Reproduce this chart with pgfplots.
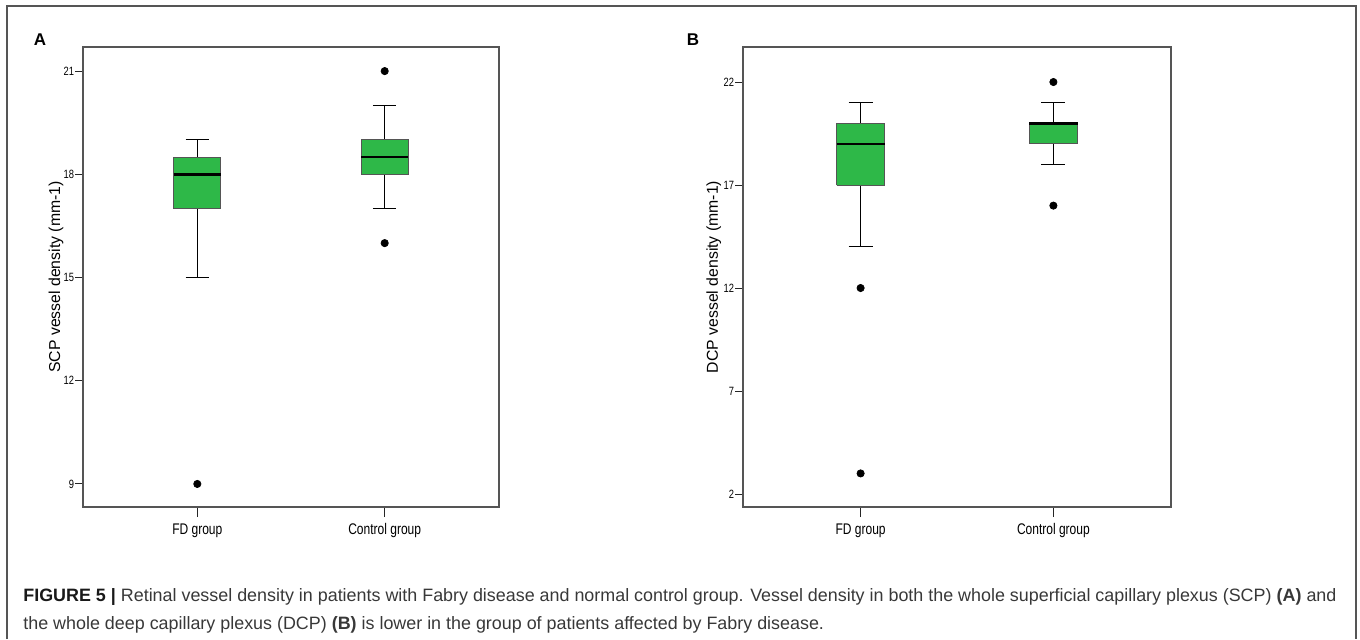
\documentclass[border=0pt]{standalone}
\usepackage{fontspec}
\setmainfont{Liberation Sans}
\newfontfamily\narrowfont[FakeStretch=0.78]{Liberation Sans}
\usepackage{pgfplots}
\pgfplotsset{compat=1.18}
\definecolor{boxgreen}{RGB}{46,184,72}
\definecolor{framegray}{RGB}{85,85,85}

\pgfplotsset{
  vdbox/.style={
    scale only axis, height=230pt, anchor=south west,
    xmin=-0.61, xmax=1.61,
    xtick={0,1}, xticklabels={FD group, Control group},
    tick align=outside, xtick pos=bottom, ytick pos=left,
    major tick length=3.8pt,
    x tick style={/pgfplots/major tick length=5pt},
    axis line style={framegray, line width=0.7pt},
    tick style={black!85, line width=0.5pt},
    /pgf/number format/assume math mode=true,
    yticklabel style={font=\narrowfont\fontsize{6}{7}\selectfont, inner sep=0.5pt},
    xticklabel style={font=\narrowfont\fontsize{7.7}{9}\selectfont, inner sep=1pt,
      text height=6pt, text depth=1.6pt, yshift=-2.5pt},
    ylabel style={font=\fontsize{7.9}{9}\selectfont, anchor=center},
  },
  whisk/.style={black, line width=0.5pt, mark=none},
  boxbody/.style={fill=boxgreen, draw=framegray, line width=0.5pt, mark=none},
  med/.style={black, line width=1.3pt, mark=none},
  vout/.style={only marks, mark=*, mark size=1.8pt, black, mark options={fill=black}},
}

% box at draw position #1: lower whisker #2, Q1 #3, median #4, Q3 #5, upper whisker #6
\newcommand{\drawbox}[6]{%
  \pgfmathsetmacro\bl{#1-0.125}\pgfmathsetmacro\br{#1+0.125}%
  \pgfmathsetmacro\cl{#1-0.0625}\pgfmathsetmacro\cr{#1+0.0625}%
  \edef\tmp{%
    \noexpand\addplot[whisk] coordinates {(#1,#2) (#1,#3)};
    \noexpand\addplot[whisk] coordinates {(#1,#5) (#1,#6)};
    \noexpand\addplot[whisk] coordinates {(\cl,#2) (\cr,#2)};
    \noexpand\addplot[whisk] coordinates {(\cl,#6) (\cr,#6)};
    \noexpand\addplot[boxbody] coordinates {(\bl,#3) (\br,#3) (\br,#5) (\bl,#5) (\bl,#3)};
    \noexpand\addplot[med] coordinates {(\bl,#4) (\br,#4)};
  }\tmp}

\begin{document}
\begin{tikzpicture}
\begin{scope}[x=0.5pt,y=0.5pt]
% page in reference pixels (y upward)
\path[use as bounding box] (0,0) rectangle (1360,639);
\draw[framegray, line width=0.7pt] (7,0) -- (7,633) -- (1356,633) -- (1356,0);
\node[font=\bfseries\fontsize{8.5}{10}\selectfont] at (40,599) {A};
\node[font=\bfseries\fontsize{8.5}{10}\selectfont] at (693,599) {B};
\node[anchor=base west, align=left, inner sep=0pt, text=black!78,
      font=\fontsize{8.95}{14}\selectfont] at (23,10)
  {{\bfseries\color{black!90}FIGURE 5 |} Retinal vessel density in patients with Fabry disease and normal control group. Vessel density in both the whole superficial capillary plexus (SCP) {\bfseries(A)} and\\
   the whole deep capillary plexus (DCP) {\bfseries(B)} is lower in the group of patients affected by Fabry disease.};
\end{scope}

% panel A: SCP
\begin{axis}[vdbox, at={(41.5pt,66pt)}, width=208pt,
  ymin=8.33, ymax=21.7, ytick={9,12,15,18,21},
  ylabel={SCP vessel density (mm-1)},
  ylabel style={at={(axis description cs:-0.065,0.5)}}]
\drawbox{0}{15}{17}{18}{18.5}{19}
\drawbox{1}{17}{18}{18.5}{19}{20}
\addplot[vout] coordinates {(0,9) (1,21) (1,16)};
\end{axis}

% panel B: DCP
\begin{axis}[vdbox, at={(371.5pt,66pt)}, width=214pt,
  ymin=1.37, ymax=23.7, ytick={2,7,12,17,22},
  ylabel={DCP vessel density (mm-1)},
  ylabel style={at={(axis description cs:-0.068,0.5)}}]
\drawbox{0}{14}{17}{19}{20}{21}
\drawbox{1}{18}{19}{20}{20}{21}
\addplot[vout] coordinates {(0,12) (0,3) (1,22) (1,16)};
\end{axis}
\end{tikzpicture}
\end{document}
